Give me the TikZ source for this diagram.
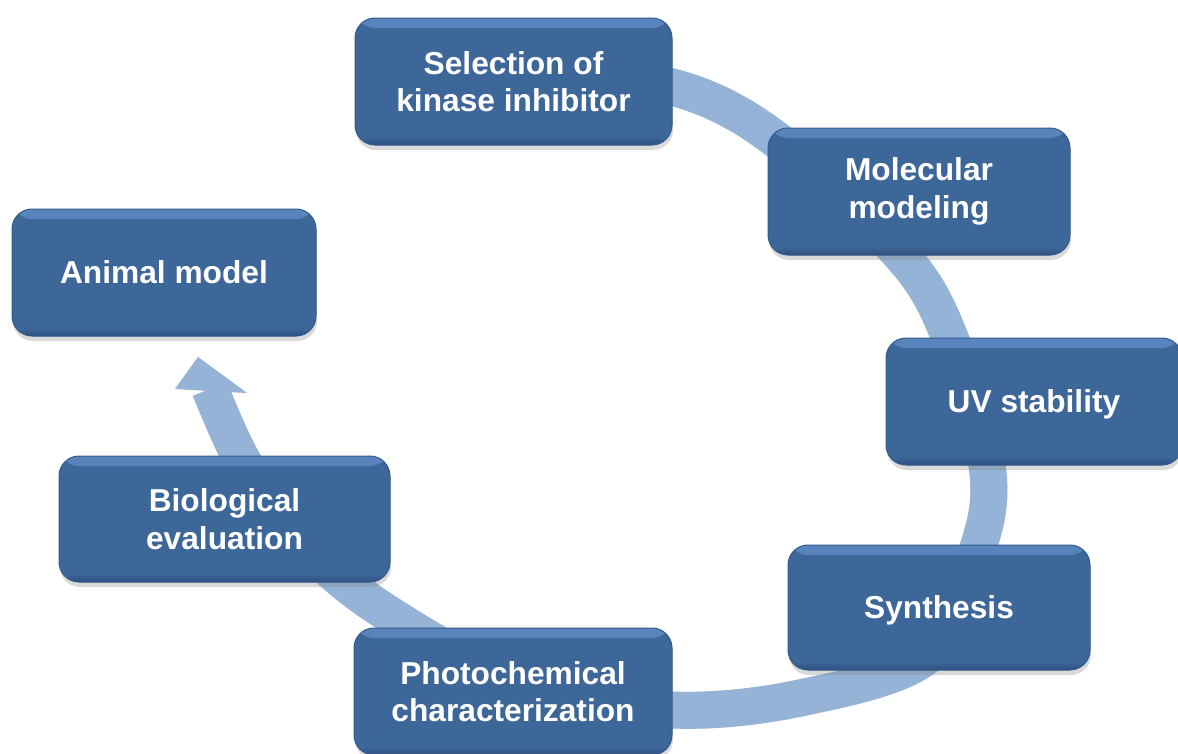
\documentclass[tikz,border=0pt]{standalone}
\usepackage{fontspec}
\setmainfont{Liberation Sans}
\usetikzlibrary{shadows}
\definecolor{boxblue}{HTML}{3D6699}
\definecolor{boxrim}{HTML}{335A8C}
\definecolor{boxlight}{HTML}{5A84BD}
\definecolor{boxdark}{HTML}{2E4F7E}
\definecolor{bandblue}{HTML}{95B3D7}
\begin{document}
\begin{tikzpicture}[x=1pt,y=-1pt,
  stage/.style={draw=boxrim, line width=1pt, fill=boxblue, rounded corners=20pt,
    minimum height=127pt, inner sep=0pt, text=white, align=center,
    font=\fontsize{31.7}{37.5}\selectfont\bfseries,
    drop shadow={shadow xshift=1pt, shadow yshift=-5pt, opacity=0.3},
    path picture={
      \shade[top color=boxlight, bottom color=boxblue] (path picture bounding box.north west) rectangle ([yshift=-10pt]path picture bounding box.north east);
      \shade[top color=boxblue, bottom color=boxdark] ([yshift=8pt]path picture bounding box.south west) rectangle (path picture bounding box.south east);}},
  band/.style={bandblue, line width=37pt}]
\useasboundingbox (0,0) rectangle (1178,753);

\coordinate (a1) at (560,80);
\coordinate (a2) at (672,87);
\coordinate (a3) at (770,135);
\coordinate (a4) at (901,255);
\coordinate (a5) at (950,338);
\coordinate (a6) at (987,465);
\coordinate (a7) at (979,545);
\coordinate (a8) at (928,655);
\coordinate (a9) at (800,698);
\coordinate (a10) at (672,710);
\coordinate (a11) at (525,687);
\coordinate (a12) at (375,605);
\coordinate (a13) at (290,530);
\coordinate (a14) at (242,460);
\coordinate (a15) at (210,389);
\coordinate (tip) at (198,357);
\coordinate (h1) at (175,389);
\coordinate (h2) at (247,393);

\begin{scope}[xshift=-3pt, yshift=-4pt]
\draw[band, black, opacity=0.15] plot[smooth, tension=0.55] coordinates {(a1) (a2) (a3) (a4) (a5) (a6) (a7) (a8) (a9) (a10) (a11) (a12) (a13) (a14) (a15)};
\fill[black, opacity=0.15] (h1) -- (tip) -- (h2) -- cycle;
\end{scope}
\draw[band] plot[smooth, tension=0.55] coordinates {(a1) (a2) (a3) (a4) (a5) (a6) (a7) (a8) (a9) (a10) (a11) (a12) (a13) (a14) (a15)};
\fill[bandblue] (h1) -- (tip) -- (h2) -- cycle;

\node[stage, minimum width=317pt] (select) at (513.5,81.5) {Selection of\\kinase inhibitor};
\node[stage, minimum width=302pt] (molec) at (919,191.5) {Molecular\\modeling};
\node[stage, minimum width=296pt, text depth=0pt] (uv) at (1034,401.5) {UV stability};
\node[stage, minimum width=302pt, minimum height=125pt, text depth=0pt] (synth) at (939,607.5) {Synthesis};
\node[stage, minimum width=318pt] (photo) at (513,691.5) {Photochemical\\characterization};
\node[stage, minimum width=331pt, minimum height=126pt] (bio) at (224.5,519) {Biological\\evaluation};
\node[stage, minimum width=304pt] (animal) at (164,272.5) {Animal model};

\end{tikzpicture}
\end{document}
